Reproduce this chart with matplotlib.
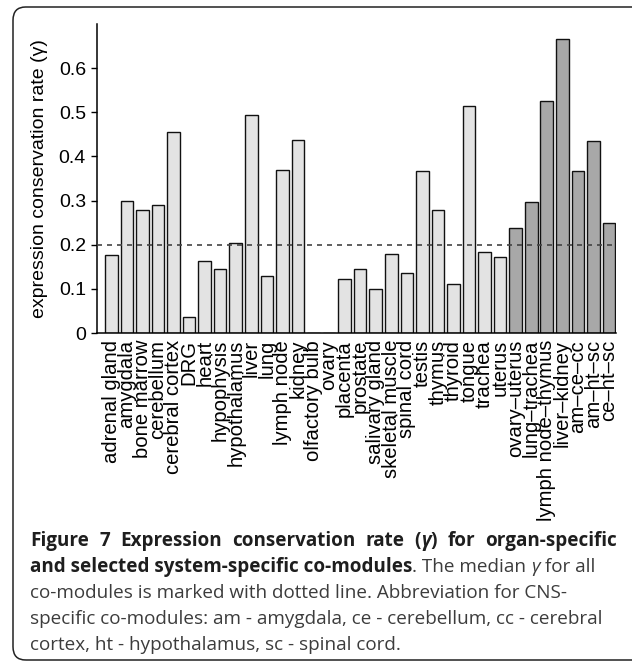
import numpy as np
import matplotlib
matplotlib.use('Agg')
import matplotlib.pyplot as plt
from matplotlib.patches import FancyBboxPatch

# ---------------------------------------------------------------------------
# data
organs = ['adrenal gland', 'amygdala', 'bone marrow', 'cerebellum', 'cerebral cortex',
          'DRG', 'heart', 'hypophysis', 'hypothalamus', 'liver', 'lung', 'lymph node',
          'kidney', 'olfactory bulb', 'ovary', 'placenta', 'prostate', 'salivary gland',
          'skeletal muscle', 'spinal cord', 'testis', 'thymus', 'thyroid', 'tongue',
          'trachea', 'uterus']
organRate = [0.177, 0.298, 0.278, 0.289, 0.455, 0.037, 0.164, 0.145, 0.204, 0.494,
             0.130, 0.370, 0.437, 0.0, 0.0, 0.123, 0.146, 0.099, 0.180, 0.136,
             0.367, 0.278, 0.110, 0.514, 0.184, 0.172]

systems = ['ovary\u2013uterus', 'lung\u2013trachea', 'lymph node\u2013thymus',
           'liver\u2013kidney', 'am\u2013ce\u2013cc', 'am\u2013ht\u2013sc', 'ce\u2013ht\u2013sc']
systemRate = [0.238, 0.296, 0.526, 0.667, 0.367, 0.434, 0.250]

medianRate = 0.2
yTicks = [0, 0.1, 0.2, 0.3, 0.4, 0.5, 0.6]

# ---------------------------------------------------------------------------
# plot
plt.rcParams['font.family'] = ['Liberation Sans', 'DejaVu Sans']
f = plt.figure(figsize=(6.32, 6.64), dpi=100)

# rounded frame around figure + caption
frame = FancyBboxPatch((13/632, 1 - 660/664), 640/632, 653/664,
                       boxstyle='round,pad=0,rounding_size=0.02',
                       transform=f.transFigure, facecolor='none',
                       edgecolor='#222222', linewidth=1.1, clip_on=False)
f.patches.append(frame)

ax = f.add_axes([97/632, 1 - 333/664, 519/632, 309/664])

labels = organs + systems
xOrg = np.arange(len(organs))
xSys = np.arange(len(organs), len(labels))
ax.bar(xOrg, organRate, width=0.81, color='#e3e3e3', edgecolor='#111111', linewidth=1.0)
ax.bar(xSys, systemRate, width=0.81, color='#a8a8a8', edgecolor='#111111', linewidth=1.0)
ax.axhline(medianRate, color='#444444', linestyle=(0, (3, 3)), linewidth=1.2, zorder=3)

ax.set_xlim(-0.92, len(labels) - 0.55)
ax.set_ylim(0, 0.7)
ax.set_yticks(yTicks)
ax.set_yticklabels(['%g' % v for v in yTicks], fontsize=14)
ax.set_xticks(np.arange(len(labels)))
ax.set_xticklabels(labels, rotation=90, fontsize=14.6, va='top', ha='center')
ax.tick_params(axis='x', length=0, pad=5)
ax.tick_params(axis='y', direction='out', length=4, width=1.0, pad=4)
ax.set_ylabel('expression conservation rate (\u03b3)', fontsize=14, labelpad=8)
for s in ['top', 'right']:
    ax.spines[s].set_visible(False)
for s in ['left', 'bottom']:
    ax.spines[s].set_linewidth(1.1)

# ---------------------------------------------------------------------------
# caption, drawn word by word (first line is justified)
capLines = [
    [('Figure 7 Expression conservation rate (', 'bold', 'normal'),
     ('\u03b3', 'bold', 'italic'),
     (') for organ-specific', 'bold', 'normal')],
    [('and selected system-specific co-modules', 'bold', 'normal'),
     ('. The median ', 'normal', 'normal'),
     ('\u03b3', 'normal', 'italic'),
     (' for all', 'normal', 'normal')],
    [('co-modules is marked with dotted line. Abbreviation for CNS-', 'normal', 'normal')],
    [('specific co-modules: am - amygdala, ce - cerebellum, cc - cerebral', 'normal', 'normal')],
    [('cortex, ht - hypothalamus, sc - spinal cord.', 'normal', 'normal')],
]
capBase = [546, 572, 598, 624, 650]
capRight = [617, None, None, None, None]
capSize = 13.6
capLeft = 30.0

renderer = f.canvas.get_renderer()


def cap_text(x, y, txt, wt, st):
    col = '#1e1e1e' if wt == 'bold' else '#3c3c3c'
    return f.text(x/632, 1 - y/664, txt, fontsize=capSize, weight=wt, style=st,
                  family=['Open Sans', 'DejaVu Sans'], color=col,
                  ha='left', va='baseline')


for parts, yb, xr in zip(capLines, capBase, capRight):
    # natural width first
    xp = capLeft
    drawn = []
    for txt, wt, st in parts:
        t = cap_text(xp, yb, txt, wt, st)
        xp += t.get_window_extent(renderer=renderer).width
        drawn.append(t)
    if xr is None:
        continue
    # justify: redraw with extra space after each blank
    for t in drawn:
        t.remove()
    nBlank = sum(txt.count(' ') for txt, _, _ in parts)
    extra = (xr - xp) / nBlank
    xp = capLeft
    for txt, wt, st in parts:
        pieces = txt.split(' ')
        for k, w in enumerate(pieces):
            if w:
                t = cap_text(xp, yb, w, wt, st)
                xp += t.get_window_extent(renderer=renderer).width
            if k < len(pieces) - 1:
                sp = cap_text(xp, yb, ' ', wt, st)
                xp += sp.get_window_extent(renderer=renderer).width + extra
                sp.remove()

f.savefig('out.png', dpi=100)
